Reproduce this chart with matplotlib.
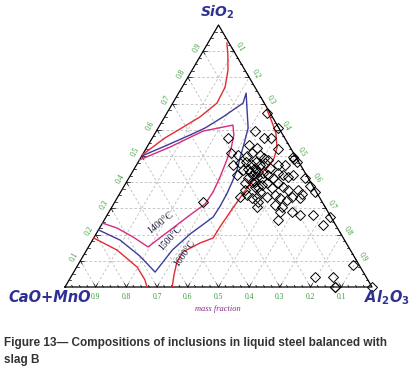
import numpy as np
import matplotlib
matplotlib.use('Agg')
import matplotlib.pyplot as plt

# inclusion compositions, mass fractions (CaO+MnO = 1 - Al2O3 - SiO2)
inc_al2o3 = [0.326, 0.321, 0.391, 0.247, 0.364, 0.387, 0.328, 0.360, 0.431, 0.285,
             0.312, 0.343, 0.354, 0.383, 0.402, 0.419, 0.495, 0.500, 0.314, 0.334,
             0.351, 0.371, 0.384, 0.402, 0.415, 0.461, 0.517, 0.347, 0.383, 0.399,
             0.415, 0.409, 0.427, 0.448, 0.470, 0.476, 0.497, 0.516, 0.529, 0.574,
             0.606, 0.633, 0.388, 0.409, 0.428, 0.447, 0.460, 0.485, 0.496, 0.519,
             0.541, 0.574, 0.594, 0.398, 0.417, 0.439, 0.453, 0.467, 0.486, 0.508,
             0.530, 0.557, 0.567, 0.472, 0.527, 0.554, 0.557, 0.596, 0.628, 0.566,
             0.670, 0.722, 0.730, 0.896, 0.795, 0.854, 0.879, 0.879, 1.000, 0.288,
             0.356, 0.392, 0.434, 0.388, 0.441, 0.401, 0.595, 0.454, 0.484, 0.370,
             0.400, 0.420, 0.440]
inc_sio2 = [0.664, 0.595, 0.607, 0.569, 0.569, 0.569, 0.542, 0.531, 0.527, 0.511,
            0.504, 0.500, 0.511, 0.504, 0.492, 0.485, 0.496, 0.490, 0.466, 0.473,
            0.477, 0.469, 0.477, 0.466, 0.473, 0.466, 0.477, 0.427, 0.439, 0.427,
            0.420, 0.439, 0.435, 0.427, 0.416, 0.435, 0.427, 0.420, 0.427, 0.416,
            0.385, 0.363, 0.397, 0.401, 0.382, 0.389, 0.397, 0.378, 0.397, 0.382,
            0.370, 0.370, 0.355, 0.344, 0.351, 0.340, 0.344, 0.324, 0.344, 0.351,
            0.340, 0.332, 0.344, 0.305, 0.313, 0.305, 0.286, 0.286, 0.275, 0.256,
            0.275, 0.237, 0.267, 0.084, 0.038, 0.038, 0.000, 0.000, 0.000, 0.324,
            0.447, 0.454, 0.416, 0.416, 0.454, 0.370, 0.340, 0.363, 0.466, 0.450,
            0.440, 0.400, 0.380]

# liquidus lines (Al2O3, SiO2)
l1400_al2o3 = [0.0, 0.075, 0.152, 0.238, 0.260, 0.276, 0.286, 0.295, 0.301, 0.298,
               0.270, 0.232, 0.194, 0.126, 0.057, 0.0]
l1400_sio2 = [0.485, 0.534, 0.595, 0.618, 0.580, 0.531, 0.477, 0.420, 0.363, 0.317,
              0.275, 0.214, 0.153, 0.191, 0.225, 0.244]

l1500_al2o3 = [0.0, 0.057, 0.117, 0.153, 0.190, 0.229, 0.220, 0.255, 0.293, 0.306,
               0.321, 0.337, 0.344, 0.349, 0.351, 0.349, 0.334, 0.306, 0.279, 0.265,
               0.185, 0.090, 0.0]
l1500_sio2 = [0.500, 0.538, 0.580, 0.607, 0.649, 0.702, 0.740, 0.676, 0.607, 0.561,
              0.504, 0.447, 0.401, 0.359, 0.309, 0.267, 0.244, 0.202, 0.141, 0.057,
              0.118, 0.179, 0.218]

l1600a_al2o3 = [0.0, 0.041, 0.073, 0.115, 0.144, 0.140, 0.117, 0.088, 0.062]
l1600a_sio2 = [0.505, 0.569, 0.603, 0.649, 0.702, 0.763, 0.828, 0.885, 0.931]
l1600b_al2o3 = [0.320, 0.359, 0.393, 0.425, 0.435, 0.432, 0.420, 0.410, 0.401, 0.396,
                0.390, 0.389, 0.356, 0.317, 0.317, 0.332, 0.349]
l1600b_sio2 = [0.676, 0.630, 0.588, 0.531, 0.492, 0.458, 0.431, 0.405, 0.351, 0.302,
               0.229, 0.187, 0.168, 0.134, 0.095, 0.046, 0.0]
l1600c_al2o3 = [0.0, 0.099, 0.197, 0.247, 0.267]
l1600c_sio2 = [0.187, 0.141, 0.076, 0.027, 0.0]

tick_vals = [0.1, 0.2, 0.3, 0.4, 0.5, 0.6, 0.7, 0.8, 0.9]

H = np.sqrt(3) / 2


def tern(al, si):
    al = np.asarray(al, dtype=float)
    si = np.asarray(si, dtype=float)
    return al + si / 2, si * H


W, HH = 412, 381
fig = plt.figure(figsize=(W / 100, HH / 100), dpi=100)
ax = fig.add_axes([0, 0, 1, 1])
ax.set_xlim(-65 / 307, 347 / 307)
ax.set_ylim(-94 / 262 * H, 287 / 262 * H)
ax.axis('off')

# grid
for v in tick_vals:
    for a0, s0, a1, s1 in [(0, v, 1 - v, v), (v, 0, v, 1 - v), (1 - v, 0, 0, 1 - v)]:
        x, y = tern([a0, a1], [s0, s1])
        ax.plot(x, y, color='#bdbdbd', lw=0.6, ls=(0, (3, 2.5)), zorder=1)

# triangle
x, y = tern([0, 1, 0, 0], [0, 0, 1, 0])
ax.plot(x, y, color='black', lw=0.9, zorder=3)

# ticks
px = 1 / 305
dirs = {'bottom': [(-0.5, H), (0.5, H)], 'left': [(1, 0), (0.5, -H)], 'right': [(-1, 0), (-0.5, H)]}
for k in range(1, 40):
    t = k / 40
    pts = {'bottom': tern(t, 0), 'left': tern(0, t), 'right': tern(1 - t, t)}
    major = (k % 4 == 0)
    for side, (x0, y0) in pts.items():
        d = dirs[side] if major else dirs[side][:1]
        L = 4 * px if major else 2 * px
        for dx, dy in d:
            ax.plot([x0, x0 + dx * L], [y0, y0 + dy * L], color='black', lw=0.5, zorder=3)

# liquidus lines
ax.plot(*tern(l1400_al2o3, l1400_sio2), color='#d82a7e', lw=1.0, zorder=4)
ax.plot(*tern(l1500_al2o3, l1500_sio2), color='#3c3c9c', lw=1.0, zorder=4)
for a, s in [(l1600a_al2o3, l1600a_sio2), (l1600b_al2o3, l1600b_sio2), (l1600c_al2o3, l1600c_sio2)]:
    ax.plot(*tern(a, s), color='#e52a30', lw=1.0, zorder=4)

# inclusions
ax.plot(*tern(inc_al2o3, inc_sio2), ls='none', marker='D', ms=5.2, mfc='none',
        mec='black', mew=0.7, zorder=5, clip_on=False)

# tick labels
green = '#3a9a3a'
for v in tick_vals:
    ax.annotate(f'{v:.1f}', tern(1 - v, 0), xytext=(0, -7.5), textcoords='offset points',
                ha='center', va='center', fontsize=5.5, color=green, family='Liberation Serif')
    ax.annotate(f'{v:.1f}', tern(0, v), xytext=(-4.5, 2.6), textcoords='offset points',
                ha='center', va='center', fontsize=5.5, color=green, rotation=60,
                family='Liberation Serif')
    ax.annotate(f'{v:.1f}', tern(v, 1 - v), xytext=(4.5, 2.6), textcoords='offset points',
                ha='center', va='center', fontsize=5.5, color=green, rotation=-60,
                family='Liberation Serif')

# temperature labels
for txt, xy, rot in [('1400°C', (161, 223), 38), ('1500°C', (170, 238), 48), ('1600°C', (185, 253), 55)]:
    fig.text(xy[0] / W, 1 - xy[1] / HH, txt, ha='center', va='center', fontsize=7,
             family='Liberation Serif', color='#1a1a3a', rotation=rot)

# corner labels
navy = '#2e3192'
fig.text(217 / W, 1 - 12 / HH, 'SiO$_\\mathbf{2}$', ha='center', va='center', fontsize=10,
         fontweight='bold', style='italic', color=navy)
fig.text(50 / W, 1 - 298 / HH, 'CaO+MnO', ha='center', va='center', fontsize=10.5,
         fontweight='bold', style='italic', color=navy)
fig.text(387 / W, 1 - 298 / HH, 'Al$_\\mathbf{2}$O$_\\mathbf{3}$', ha='center', va='center',
         fontsize=10.5, fontweight='bold', style='italic', color=navy)
fig.text(218 / W, 1 - 309 / HH, 'mass fraction', ha='center', va='center', fontsize=6,
         style='italic', family='Liberation Serif', color='#8b2a8a')

# caption
fig.text(4 / W, 1 - 343 / HH, 'Figure 13\u2014 Compositions of inclusions in liquid steel balanced with',
         ha='left', va='center', fontsize=8.5, fontweight='bold', family='Liberation Sans', color='#333333')
fig.text(4 / W, 1 - 360 / HH, 'slag B', ha='left', va='center', fontsize=8.5, fontweight='bold',
         family='Liberation Sans', color='#333333')

fig.savefig('out.png', dpi=100)
